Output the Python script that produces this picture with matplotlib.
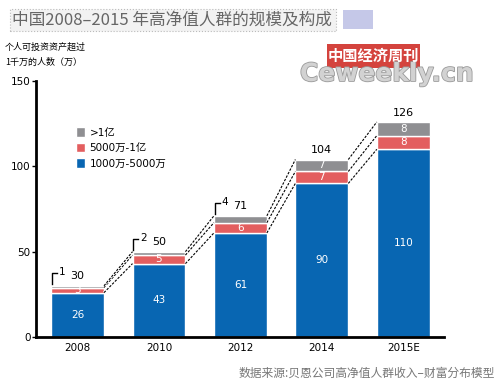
import matplotlib.pyplot as plt
import matplotlib.patheffects as pe
from matplotlib.patches import Rectangle

plt.rcParams['font.family'] = ['DejaVu Sans', 'Noto Sans CJK SC']

years = ['2008', '2010', '2012', '2014', '2015E']
mid = [26, 43, 61, 90, 110]      # 1000万-5000万
upper = [3, 5, 6, 7, 8]          # 5000万-1亿
top = [1, 2, 4, 7, 8]            # >1亿
totals = [30, 50, 71, 104, 126]
small_top = [True, True, True, False, False]  # >1亿 shown with a bracket

c_blue = '#0866b2'
c_red = '#e35e5f'
c_gray = '#8f8f92'

fig = plt.figure(figsize=(4.99, 3.83), dpi=100)
ax = fig.add_axes([36/499, 1-337/383, (444-36)/499, 256/383])

x = list(range(len(years)))
w = 0.65
b1 = ax.bar(x, mid, w, color=c_blue, edgecolor='white', linewidth=1)
b2 = ax.bar(x, upper, w, bottom=mid, color=c_red, edgecolor='white', linewidth=1)
bot3 = [m + u for m, u in zip(mid, upper)]
b3 = ax.bar(x, top, w, bottom=bot3, color=c_gray, edgecolor='white', linewidth=1)

# dashed connectors between bars
for i in range(len(x) - 1):
    for lev in (mid, bot3, totals):
        ax.plot([x[i] + w/2, x[i+1] - w/2], [lev[i], lev[i+1]],
                color='black', lw=0.8, ls=(0, (2.2, 1.3)), zorder=1,
                path_effects=[pe.Stroke(linewidth=2, foreground='white'), pe.Normal()])

for i in x:
    ax.text(i, mid[i]/2, str(mid[i]), color='white', ha='center', va='center', fontsize=7.5)
    ax.text(i, mid[i] + upper[i]/2, str(upper[i]), color='white', ha='center', va='center', fontsize=7.5)
    if small_top[i]:
        x0 = i - w/2 + 0.01
        t = totals[i]
        ax.plot([x0, x0, x0 + 0.06], [t + 1, t + 7.5, t + 7.5], color='black', lw=1)
        ax.text(x0 + 0.08, t + 8, str(top[i]), ha='left', va='center', fontsize=7.5)
    else:
        ax.text(i, bot3[i] + top[i]/2, str(top[i]), color='white', ha='center', va='center', fontsize=7.5)
    ax.text(i, totals[i] + 5.5, str(totals[i]), ha='center', va='center', fontsize=8)

ax.set_xlim(-0.51, 4.5)
ax.set_ylim(0, 150)
ax.set_yticks([0, 50, 100, 150])
ax.set_xticks(x)
ax.set_xticklabels(years)
ax.tick_params(axis='x', length=0, labelsize=7.5, pad=4)
ax.tick_params(axis='y', length=3, width=1, labelsize=7.5, pad=1)
for s in ('top', 'right'):
    ax.spines[s].set_visible(False)
for s in ('left', 'bottom'):
    ax.spines[s].set_linewidth(2)

ax.legend([b3, b2, b1], ['>1亿', '5000万-1亿', '1000万-5000万'],
          loc='upper left', bbox_to_anchor=(0.075, 0.855), frameon=False,
          fontsize=7.5, handlelength=0.85, handleheight=1.0, handletextpad=0.45,
          labelspacing=0.5)

# title
fig.patches.append(Rectangle((10/499, 1-31/383), 326/499, 22/383, transform=fig.transFigure,
                             facecolor='#f2f2f2', edgecolor='#bbbbbb', lw=0.8, ls=':'))
fig.patches.append(Rectangle((343/499, 1-29/383), 30/499, 19/383, transform=fig.transFigure,
                             facecolor='#c5c8e8', edgecolor='none'))
fig.text(12/499, 1-20/383, '中国2008–2015 年高净值人群的规模及构成', fontsize=12,
         color='#666666', va='center', ha='left', family=['Noto Sans CJK SC'])

fig.text(5/499, 1-47/383, '个人可投资资产超过', fontsize=6.5, va='center', family=['Noto Sans CJK SC'])
fig.text(5/499, 1-62/383, '1千万的人数（万）', fontsize=6.5, va='center', family=['Noto Sans CJK SC'])

# watermark
fig.text(300/499, 1-74/383, 'Ceweekly.cn', fontsize=18, fontweight='bold', color='#d2d2d2',
         va='center', ha='left', family=['DejaVu Sans'],
         path_effects=[pe.Stroke(linewidth=1.2, foreground='#9a9a9a'), pe.Normal()])
fig.patches.append(Rectangle((327/499, 1-68/383), 93/499, 24/383, transform=fig.transFigure,
                             facecolor='#d4433d', edgecolor='none', zorder=3))
fig.text(373/499, 1-56/383, '中国经济周刊', fontsize=11, color='white', fontweight='bold',
         va='center', ha='center', family=['Noto Sans CJK SC'], zorder=4)

fig.text(495/499, 1-373/383, '数据来源:贝恩公司高净值人群收入–财富分布模型', fontsize=8.5,
         color='#777777', va='center', ha='right', family=['Noto Sans CJK SC'])

fig.savefig('out.png', dpi=100)
